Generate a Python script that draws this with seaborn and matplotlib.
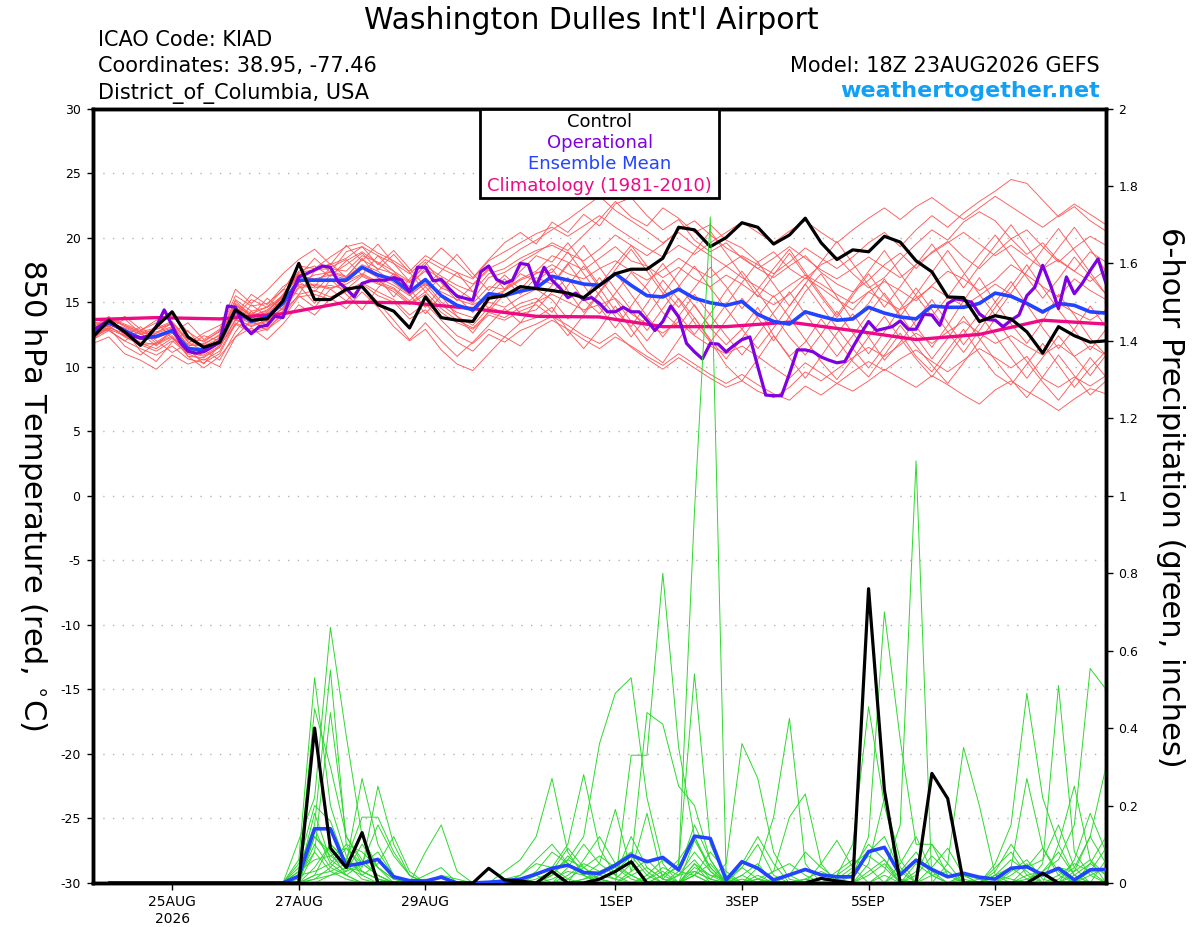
import numpy as np
import pandas as pd
import seaborn as sns
import matplotlib.pyplot as plt
from matplotlib.patches import Rectangle

# GEFS run 18Z 23AUG2026, Washington Dulles (KIAD)
t6 = pd.date_range("2026-08-23 18:00", periods=65, freq="6h")
t3 = pd.date_range("2026-08-23 18:00", periods=129, freq="3h")
t24 = pd.date_range("2026-08-23 18:00", periods=17, freq="24h")
tp = pd.date_range("2026-08-24 00:00", periods=64, freq="6h")

# ---- 850 hPa temperature (C) ----
ctrl_t = [12.3, 13.6, 12.7, 11.65, 13.1, 14.25, 12.3, 11.5, 11.9,
          14.4, 13.6, 13.7, 15.1, 18.0, 15.2, 15.2, 16.0,
          16.2, 14.8, 14.3, 13.0, 15.4, 13.8, 13.6, 13.5, 15.3, 15.5, 16.2, 16.05,
          15.9, 15.7, 15.35, 16.3, 17.2, 17.55, 17.55, 18.4, 20.8, 20.6, 19.3, 20.0,
          21.15, 20.8, 19.5, 20.2, 21.5, 19.6, 18.3, 19.05, 18.9, 20.1, 19.65, 18.2,
          17.35, 15.4, 15.35, 13.5, 13.95, 13.7, 12.7, 11.05, 13.1, 12.4, 11.9, 12.0]

mean_t = [12.7, 13.4, 12.8, 12.2, 12.35, 12.8, 11.4, 11.3, 11.9,
          14.4, 13.5, 13.85, 14.9, 16.7, 16.7, 16.7, 16.7,
          17.7, 17.1, 16.75, 15.8, 16.75, 15.5, 14.75, 14.4, 15.65, 15.5, 15.85, 16.1,
          17.0, 16.7, 16.4, 16.3, 17.2, 16.3, 15.5, 15.4, 16.0, 15.3, 14.95, 14.75,
          15.05, 14.05, 13.5, 13.3, 14.25, 13.9, 13.6, 13.7, 14.6, 14.15, 13.85, 13.7,
          14.7, 14.6, 14.6, 14.9, 15.7, 15.45, 14.9, 14.25, 14.9, 14.75, 14.25, 14.15]

oper_t = [12.8, 13.2, 13.6, 13.1, 12.7, 12.35, 12.25, 12.35, 13.1, 14.4, 13.2, 11.9,
          11.2, 11.05, 11.15, 11.5, 11.9, 14.7, 14.6, 13.2, 12.55, 13.1, 13.2, 13.9,
          13.8, 15.5, 16.95, 17.2, 17.5, 17.8, 17.7, 16.55, 16.05, 15.4, 16.45, 16.65,
          16.7, 16.7, 16.9, 16.7, 15.8, 17.7, 17.7, 16.65, 16.75, 16.05, 15.45, 15.3,
          15.15, 17.35, 17.8, 16.75, 16.45, 16.7, 18.0, 17.9, 16.2,
          17.7, 16.7, 16.1, 15.35, 15.7, 15.2, 15.35, 14.9, 14.25, 14.25, 14.6, 14.25,
          14.25, 13.6, 12.8, 13.5, 14.7, 13.85, 11.8, 11.15, 10.6, 11.8, 11.75, 11.15,
          11.65, 12.1, 12.3, 10.0, 7.8, 7.75, 7.75, 9.45, 11.3, 11.3, 11.15, 10.75,
          10.5, 10.3, 10.4, 11.5, 12.55, 13.5, 12.8, 12.95, 13.1, 13.55, 12.9, 12.9,
          14.05, 14.0, 13.2, 14.9, 15.25, 15.15, 15.0, 14.1, 13.65, 13.6, 13.1, 13.6,
          14.0, 15.5, 16.15, 17.85, 16.3, 14.5, 16.95, 15.65, 16.45, 17.45, 18.35, 16.45]

clim_t = [13.65, 13.8, 13.7, 14.1, 15.0, 14.95, 14.5, 13.9, 13.85,
          13.1, 13.1, 13.45, 12.8, 12.1, 12.5, 13.6, 13.3]

t01 = [12.9, 13.6, 12.5, 11.8, 12.6, 13.4, 11.9, 11.2, 12.3,
       15.1, 13.9, 14.2, 15.6, 17.4, 17.8, 17.0, 18.2,
       18.9, 18.0, 17.1, 16.2, 17.6, 16.8, 16.0, 15.2, 16.9, 17.3, 18.1, 18.8,
       19.6, 19.0, 20.2, 21.4, 22.8, 21.6, 20.9, 22.3, 21.5, 20.4, 21.0, 19.8,
       19.2, 18.1, 18.9, 17.6, 16.8, 17.9, 18.5, 17.2, 16.1, 16.9, 18.3, 19.5,
       20.6, 19.8, 21.2, 22.0, 21.3, 19.9, 18.7, 19.6, 18.2, 17.4, 18.9, 18.1]
t02 = [12.0, 13.4, 12.9, 11.2, 10.4, 11.9, 12.8, 11.3, 10.5,
       12.7, 14.3, 13.1, 15.4, 16.3, 14.9, 16.8, 15.6,
       14.4, 16.1, 17.2, 15.6, 14.1, 15.5, 13.9, 12.6, 14.3, 15.6, 14.1, 14.4,
       15.8, 16.9, 15.2, 14.1, 15.7, 17.3, 16.0, 14.2, 13.1, 14.8, 13.0, 11.7,
       12.9, 14.6, 12.4, 10.8, 11.9, 13.7, 12.1, 10.4, 9.2, 10.9, 12.6, 10.8,
       9.6, 11.3, 12.9, 11.0, 9.4, 8.6, 10.2, 11.8, 10.1, 8.4, 9.9, 11.2]
t03 = [13.1, 13.7, 13.2, 12.6, 12.9, 13.3, 11.6, 11.8, 12.4,
       14.9, 14.1, 14.6, 15.3, 17.2, 16.6, 17.4, 17.0,
       18.3, 17.6, 17.2, 16.5, 17.4, 16.1, 15.6, 14.9, 16.2, 16.0, 16.8, 17.4,
       18.6, 18.1, 17.5, 18.4, 19.3, 18.2, 17.8, 16.9, 17.7, 16.8, 16.2, 17.1,
       16.4, 15.5, 14.8, 15.6, 16.9, 16.1, 15.2, 14.4, 15.8, 16.6, 15.9, 15.1,
       16.3, 17.4, 16.8, 15.9, 16.7, 17.9, 17.1, 16.2, 15.4, 16.8, 15.9, 15.2]
t04 = [12.2, 13.0, 12.6, 11.9, 11.7, 12.3, 10.8, 10.7, 11.5,
       13.6, 13.2, 13.4, 14.3, 16.1, 16.3, 16.0, 16.6,
       17.2, 16.6, 16.1, 15.1, 16.2, 14.8, 13.9, 13.2, 14.6, 14.2, 14.9, 15.3,
       14.2, 16.3, 17.8, 16.1, 14.3, 13.1, 14.9, 16.7, 15.2, 13.4, 11.9, 13.6,
       15.3, 13.8, 12.0, 13.9, 15.8, 17.2, 15.4, 13.6, 14.9, 16.8, 15.0, 13.1,
       11.5, 13.2, 15.1, 16.9, 15.0, 13.3, 11.8, 13.5, 15.6, 14.0, 12.2, 10.9]
t05 = [13.5, 13.1, 13.9, 12.9, 11.8, 12.6, 13.4, 12.1, 12.9,
       16.0, 14.9, 15.9, 17.2, 18.3, 19.1, 17.9, 19.4,
       18.2, 19.5, 18.0, 16.6, 17.9, 19.2, 18.1, 16.9, 18.3, 19.6, 20.4, 19.5,
       21.2, 20.4, 21.8, 20.9, 22.6, 23.1, 21.7, 20.6, 21.4, 19.8, 18.9, 19.6,
       18.4, 17.6, 16.9, 17.8, 18.6, 17.3, 16.4, 15.8, 16.7, 17.9, 18.8, 17.6,
       18.9, 19.7, 18.5, 17.6, 18.8, 19.9, 20.6, 19.3, 18.1, 19.2, 20.1, 19.4]
t06 = [12.5, 13.2, 12.3, 11.7, 11.2, 12.0, 11.0, 10.5, 11.2,
       13.4, 12.8, 13.0, 14.0, 15.6, 15.9, 15.4, 15.9,
       16.5, 15.8, 15.2, 14.0, 14.9, 13.6, 12.4, 11.8, 12.9, 12.3, 13.4, 13.8,
       14.6, 12.8, 11.4, 12.9, 14.7, 12.9, 11.2, 10.3, 12.1, 13.8, 12.0, 10.1,
       8.9, 10.6, 12.4, 10.7, 9.1, 10.8, 12.6, 14.1, 12.3, 10.5, 11.9, 13.6,
       15.2, 13.4, 11.7, 13.3, 15.0, 16.6, 14.8, 13.0, 11.4, 12.9, 14.7, 13.1]
t07 = [12.6, 13.9, 12.4, 13.1, 12.0, 11.1, 11.8, 12.6, 13.2,
       13.9, 15.2, 14.6, 16.0, 15.6, 17.4, 18.0, 16.9,
       18.4, 16.9, 15.4, 16.8, 18.1, 16.5, 15.1, 16.3, 17.5, 16.0, 17.4, 18.6,
       18.1, 19.6, 18.0, 16.3, 17.9, 19.4, 17.8, 16.0, 14.6, 16.1, 17.7, 16.2,
       14.5, 16.0, 17.6, 19.1, 17.3, 15.6, 14.0, 15.7, 17.4, 19.0, 17.2, 15.5,
       13.9, 15.4, 17.1, 18.7, 20.2, 18.6, 16.9, 15.3, 16.8, 18.5, 17.0, 15.6]
t08 = [12.6, 13.3, 12.7, 12.1, 12.2, 12.7, 11.5, 11.1, 11.8,
       14.6, 13.8, 14.1, 15.2, 16.6, 17.1, 17.3, 16.9,
       17.9, 17.4, 16.5, 15.6, 16.4, 15.8, 15.2, 14.8, 15.4, 15.9, 16.7, 17.2,
       17.9, 17.2, 16.8, 17.6, 18.2, 17.4, 16.7, 17.5, 18.4, 17.6, 16.9, 17.8,
       18.6, 17.9, 17.2, 18.1, 19.2, 18.4, 17.6, 18.5, 19.6, 20.4, 19.3, 20.6,
       21.7, 20.8, 21.9, 22.8, 23.6, 24.5, 24.2, 22.9, 21.6, 22.4, 21.3, 20.5]
t09 = [12.3, 12.9, 12.4, 11.8, 11.4, 12.2, 11.1, 10.9, 11.6,
       14.0, 13.3, 13.5, 14.6, 16.4, 16.1, 16.3, 16.0,
       17.0, 16.4, 16.0, 14.9, 15.8, 14.5, 13.6, 13.0, 14.2, 13.8, 14.6, 15.0,
       15.6, 15.0, 14.4, 14.8, 15.3, 14.1, 13.3, 12.6, 13.5, 12.4, 11.6, 11.0,
       11.6, 10.8, 9.9, 9.1, 10.3, 9.5, 8.7, 8.1, 8.9, 9.8, 9.1, 8.4,
       9.3, 8.6, 7.8, 7.1, 8.2, 8.9, 8.1, 7.4, 6.6, 7.5, 8.3, 7.9]
t10 = [13.2, 12.9, 13.7, 12.6, 11.6, 12.9, 11.4, 10.2, 11.7,
       13.2, 14.8, 13.9, 15.5, 17.2, 16.2, 17.7, 18.3,
       17.1, 18.6, 17.4, 16.0, 14.6, 16.1, 17.3, 15.8, 14.5, 15.9, 17.2, 16.6,
       17.6, 15.9, 14.2, 15.8, 17.5, 19.1, 17.4, 15.7, 14.0, 12.5, 14.1, 15.9,
       17.4, 15.8, 14.0, 12.3, 10.9, 12.5, 14.3, 12.6, 11.0, 12.7, 14.5, 16.1,
       14.4, 12.7, 11.1, 12.8, 14.6, 16.2, 17.9, 16.1, 14.4, 12.8, 11.3, 12.9]
t11 = [12.7, 13.4, 13.0, 12.5, 12.7, 13.1, 11.7, 11.6, 12.2,
       14.8, 13.9, 14.4, 15.4, 17.0, 16.8, 17.1, 16.8,
       17.6, 16.9, 16.3, 15.5, 16.5, 15.0, 14.2, 13.8, 15.0, 14.6, 15.4, 16.0,
       15.2, 13.7, 15.3, 16.9, 15.2, 13.5, 12.0, 13.6, 15.3, 13.8, 12.1, 10.6,
       12.2, 13.9, 15.5, 13.8, 12.1, 10.4, 9.0, 10.6, 12.3, 13.9, 12.2, 10.6,
       9.2, 10.8, 12.5, 14.1, 12.4, 10.7, 9.1, 10.7, 12.4, 10.8, 9.3, 10.9]
t12 = [12.1, 12.8, 12.0, 11.4, 10.9, 11.6, 10.6, 10.3, 11.0,
       13.3, 12.6, 12.9, 13.8, 15.4, 15.6, 15.2, 15.8,
       16.4, 15.5, 15.0, 13.7, 14.4, 13.1, 11.9, 11.2, 12.5, 11.9, 12.8, 13.3,
       13.9, 13.2, 12.4, 11.8, 12.6, 11.5, 10.6, 9.8, 10.7, 9.9, 9.1, 8.4,
       8.9, 8.1, 7.6, 8.4, 9.6, 8.9, 9.8, 10.7, 11.5, 10.8, 11.7, 12.6,
       11.8, 12.7, 13.5, 12.6, 11.8, 12.4, 11.6, 10.9, 11.7, 10.8, 11.6, 10.9]
t13 = [13.2, 13.8, 13.1, 12.5, 12.9, 13.4, 12.0, 11.7, 12.5,
       15.2, 14.3, 14.6, 15.5, 17.3, 17.5, 17.6, 17.4,
       18.6, 18.1, 17.4, 16.6, 17.8, 17.0, 16.3, 15.8, 17.2, 17.6, 18.4, 19.0,
       19.4, 18.8, 18.2, 19.1, 20.2, 19.4, 18.6, 19.5, 20.6, 21.3, 20.2, 19.2,
       18.5, 17.6, 18.4, 19.3, 18.4, 17.5, 16.8, 17.6, 18.5, 17.7, 16.9, 17.9,
       18.8, 19.6, 20.4, 19.5, 18.6, 19.4, 18.5, 17.6, 18.3, 17.4, 16.6, 17.5]
t14 = [12.5, 13.0, 11.6, 10.9, 11.9, 12.7, 10.8, 9.9, 10.8,
       12.3, 13.6, 12.8, 14.3, 15.5, 14.6, 16.0, 15.1,
       16.3, 15.0, 13.6, 12.1, 13.4, 12.0, 10.8, 11.9, 13.2, 14.5, 13.4, 15.0,
       16.3, 17.9, 19.4, 17.7, 16.0, 14.4, 12.8, 14.5, 16.2, 17.8, 16.1, 14.5,
       12.9, 11.4, 13.0, 14.7, 16.4, 14.7, 13.0, 11.4, 9.9, 11.5, 13.2, 11.6,
       10.1, 8.7, 10.3, 12.0, 13.7, 12.0, 10.4, 8.8, 7.4, 9.0, 10.7, 9.2]
t15 = [12.9, 13.6, 12.8, 12.3, 12.6, 13.0, 11.5, 11.3, 12.1,
       14.7, 14.0, 14.3, 15.4, 17.1, 17.4, 17.9, 18.4,
       19.3, 18.6, 18.0, 17.2, 18.3, 17.6, 17.0, 16.4, 17.6, 18.2, 19.1, 19.8,
       20.6, 21.4, 22.3, 23.2, 22.1, 21.3, 20.5, 19.6, 20.4, 19.4, 18.6, 17.8,
       16.9, 16.2, 15.4, 16.3, 17.1, 16.4, 15.6, 14.9, 15.8, 15.1, 14.4, 15.3,
       16.2, 15.4, 14.7, 15.5, 16.4, 15.6, 14.8, 14.1, 14.9, 14.2, 13.6, 14.4]
t16 = [12.9, 12.8, 12.0, 12.8, 13.4, 12.2, 11.5, 12.4, 12.0,
       14.8, 13.9, 15.3, 14.4, 16.6, 15.8, 17.1, 17.9,
       18.8, 17.5, 18.7, 17.3, 15.8, 16.9, 15.4, 14.2, 15.5, 16.8, 15.6, 16.9,
       16.4, 18.0, 16.3, 14.6, 13.0, 14.7, 16.4, 18.0, 16.3, 14.7, 13.1, 14.8,
       16.5, 18.1, 16.4, 14.7, 16.4, 18.1, 19.7, 18.0, 16.3, 14.6, 16.2, 17.9,
       19.5, 17.8, 16.1, 17.8, 19.4, 21.0, 19.3, 17.6, 19.2, 20.8, 19.1, 17.4]
t17 = [13.0, 13.7, 13.2, 12.7, 13.0, 13.5, 12.1, 12.0, 12.7,
       15.5, 14.7, 14.9, 15.9, 17.8, 17.6, 18.5, 19.3,
       19.6, 18.8, 18.2, 17.4, 18.6, 17.9, 17.3, 16.8, 18.2, 18.9, 19.6, 20.3,
       20.8, 20.1, 20.9, 21.7, 20.8, 20.0, 19.2, 18.5, 19.4, 18.7, 19.6, 20.4,
       21.2, 20.4, 19.6, 20.5, 21.3, 20.4, 19.6, 20.6, 21.5, 22.3, 21.4, 22.4,
       23.1, 22.2, 21.4, 22.3, 23.2, 22.4, 21.6, 20.8, 21.7, 22.6, 21.8, 21.0]
t18 = [12.3, 13.1, 12.4, 11.7, 11.8, 12.4, 11.1, 10.8, 11.5,
       13.7, 13.1, 13.6, 14.5, 16.2, 16.4, 16.1, 16.4,
       17.1, 16.5, 15.8, 14.8, 15.6, 14.2, 13.4, 12.9, 14.0, 13.6, 14.3, 14.8,
       13.9, 12.4, 14.0, 15.7, 17.3, 15.6, 13.9, 12.3, 13.9, 15.6, 14.0, 12.4,
       10.9, 12.5, 14.2, 15.8, 14.1, 12.4, 10.8, 12.4, 14.1, 15.7, 14.0, 12.3,
       10.6, 12.2, 13.9, 12.2, 10.5, 9.0, 7.6, 9.2, 10.9, 9.3, 7.8, 8.9]
t19 = [12.7, 13.8, 13.3, 12.8, 13.6, 14.0, 12.7, 11.9, 12.8,
       14.0, 15.6, 14.8, 16.2, 17.0, 18.4, 17.3, 18.9,
       19.3, 17.9, 19.0, 17.6, 16.2, 17.4, 18.7, 17.2, 15.9, 17.1, 16.0, 17.3,
       17.3, 18.9, 17.2, 15.5, 13.9, 12.3, 13.9, 15.6, 17.3, 18.9, 20.5, 18.8,
       17.1, 15.4, 17.1, 18.8, 17.1, 15.4, 13.8, 15.5, 17.2, 15.5, 13.9, 15.6,
       17.3, 19.0, 17.3, 15.6, 14.0, 15.7, 17.4, 19.1, 20.7, 19.0, 17.3, 15.6]
t20 = [11.8, 12.3, 11.0, 10.5, 9.8, 10.9, 10.2, 10.6, 10.0,
       12.3, 13.0, 12.1, 13.3, 14.8, 14.0, 15.3, 14.5,
       15.8, 14.6, 13.1, 12.0, 12.9, 11.3, 10.2, 9.7, 11.0, 12.3, 11.6, 12.9,
       13.6, 12.9, 12.1, 11.4, 12.3, 11.6, 10.8, 10.1, 11.0, 10.2, 9.4, 8.7,
       9.4, 8.6, 7.9, 7.4, 8.5, 7.8, 8.7, 9.6, 10.4, 9.7, 10.6, 11.3,
       10.4, 9.6, 10.5, 11.4, 10.7, 9.9, 10.8, 9.1, 8.4, 9.2, 8.5, 9.3]

# ---- 6-hour precipitation (inches), 00Z 24AUG onward ----
ctrl_p = [0, 0, 0, 0, 0, 0, 0, 0, 0, 0, 0, 0, 0, .40, .09, .04,
          .13, 0, 0, 0, 0, 0, 0, 0, .038, .008, .005, 0, .03, 0, 0, .01,
          .03, .055, 0, 0, 0, 0, 0, 0, 0, 0, 0, 0, 0, .012, .005, 0,
          .76, .24, 0, 0, .283, .218, 0, 0, 0, 0, 0, .025, 0, 0, 0, 0]
mean_p = [0, 0, 0, 0, 0, 0, 0, 0, 0, 0, 0, 0, .018, .14, .14, .044,
          .051, .061, .016, .006, .005, .015, 0, 0, .002, .005, .01, .023, .038, .046, .027, .025,
          .046, .072, .055, .066, .034, .121, .115, .008, .055, .038, .008, .021, .035, .021, .016, .016,
          .081, .092, .021, .059, .035, .016, .025, .015, .01, .038, .042, .021, .038, .008, .034, .035]

p01 = [0, 0, 0, 0, 0, 0, 0, 0, 0, 0, 0, 0, .06, .53, .20, .07,
       .02, 0, 0, 0, 0, 0, 0, 0, 0, 0, 0, .01, .03, .09, .04, .01,
       0, .03, .06, .02, 0, .11, .04, 0, 0, .02, 0, 0, 0, 0, 0, 0,
       .02, .05, 0, 0, 0, 0, .01, 0, 0, .03, .06, .01, 0, 0, .02, 0]
p02 = [0, 0, 0, 0, 0, 0, 0, 0, 0, 0, 0, 0, .03, .45, .30, .12,
       .05, .02, 0, 0, .01, 0, 0, 0, 0, .03, .06, .12, .27, .08, .02, 0,
       0, 0, .01, .04, .02, .06, .01, 0, .02, .05, 0, 0, .01, 0, 0, 0,
       0, 0, 0, .02, .07, .03, 0, 0, 0, 0, 0, 0, .01, .04, .12, .05]
p03 = [0, 0, 0, 0, 0, 0, 0, 0, 0, 0, 0, 0, .11, .22, .66, .38,
       .12, .04, .01, 0, 0, 0, 0, 0, 0, 0, 0, 0, .02, .06, .12, .36,
       .49, .53, .22, .05, 0, .02, 0, 0, 0, 0, 0, 0, 0, .05, .11, .04,
       0, 0, 0, 0, 0, 0, 0, 0, .02, .01, 0, 0, 0, 0, 0, 0]
p04 = [0, 0, 0, 0, 0, 0, 0, 0, 0, 0, 0, 0, .04, .15, .55, .10,
       .03, .01, 0, 0, 0, 0, 0, 0, 0, 0, 0, 0, 0, .02, .05, .03,
       .01, .05, .44, .41, .25, .20, .06, 0, 0, 0, .03, .17, .23, .05, 0, 0,
       0, 0, .03, .08, .02, 0, 0, 0, 0, 0, .04, .09, .02, 0, 0, .06]
p05 = [0, 0, 0, 0, 0, 0, 0, 0, 0, 0, 0, 0, .02, .08, .44, .12,
       .06, .02, 0, 0, 0, 0, 0, 0, 0, .01, .02, .05, .04, .01, 0, 0,
       0, .33, .33, .80, .35, .12, .03, 0, 0, .01, 0, 0, 0, 0, .02, .10,
       .455, .20, .04, 0, 0, 0, 0, .01, 0, 0, 0, 0, 0, 0, .05, .02]
p06 = [0, 0, 0, 0, 0, 0, 0, 0, 0, 0, 0, 0, 0, .02, .03, .05,
       .27, .10, .02, 0, 0, 0, 0, 0, 0, 0, 0, .03, .08, .05, .02, 0,
       0, 0, 0, .02, .04, .96, 1.72, .02, 0, 0, 0, 0, .01, .03, .01, 0,
       0, 0, 0, .03, .10, .05, 0, 0, .02, .04, .01, 0, 0, 0, 0, 0]
p07 = [0, 0, 0, 0, 0, 0, 0, 0, 0, 0, 0, 0, 0, .01, .04, .09,
       .04, .25, .10, .02, 0, 0, 0, 0, 0, 0, 0, 0, .01, .03, .02, .05,
       .19, .03, .18, .01, .05, .54, .10, .01, 0, 0, 0, 0, 0, 0, 0, .02,
       .12, .70, .37, .10, .10, .02, 0, 0, 0, 0, 0, .03, .08, .02, 0, 0]
p08 = [0, 0, 0, 0, 0, 0, 0, 0, 0, 0, 0, 0, .05, .20, .16, .05,
       .01, 0, 0, 0, 0, 0, 0, 0, 0, 0, 0, 0, 0, 0, .06, .12,
       .05, .02, 0, 0, 0, .03, .01, .05, .36, .27, .08, .01, 0, 0, 0, 0,
       0, .03, .15, 1.09, 0, 0, 0, 0, 0, .02, .05, 0, 0, .03, .06, .02]
p09 = [0, 0, 0, 0, 0, 0, 0, 0, 0, 0, 0, 0, 0, .02, .10, .06,
       .17, .17, .08, .02, 0, 0, 0, 0, 0, 0, 0, 0, 0, 0, .01, .02,
       .01, 0, 0, 0, .02, .08, .03, 0, 0, .04, .17, .425, .05, 0, 0, 0,
       .03, .06, .01, 0, 0, .05, .35, .20, .02, 0, 0, 0, .02, .05, .03, 0]
p10 = [0, 0, 0, 0, 0, 0, 0, 0, 0, 0, 0, 0, 0, .01, .02, .03,
       .05, .15, .07, .02, 0, 0, 0, 0, 0, 0, .02, .06, .10, .05, .03, .01,
       0, 0, .02, .06, .03, .02, 0, 0, 0, .01, .03, .05, .02, 0, 0, 0,
       0, 0, 0, 0, 0, 0, 0, 0, .05, .15, .49, .22, .10, .02, 0, 0]
p11 = [0, 0, 0, 0, 0, 0, 0, 0, 0, 0, 0, 0, .03, .06, .07, .09,
       .05, .02, 0, 0, 0, 0, 0, 0, 0, 0, 0, 0, 0, 0, 0, .01,
       .03, .07, .02, 0, 0, .04, .02, 0, .01, 0, 0, 0, 0, 0, .02, .05,
       .08, .12, .03, 0, 0, 0, .02, .01, 0, 0, 0, .05, .51, .08, .02, .04]
p12 = [0, 0, 0, 0, 0, 0, 0, 0, 0, 0, 0, 0, 0, 0, .02, .04,
       .03, .01, 0, 0, .08, .15, .03, 0, 0, 0, 0, 0, 0, .01, .04, .07,
       .04, .02, 0, 0, 0, .02, .05, 0, 0, 0, 0, .02, 0, 0, 0, 0,
       0, 0, 0, 0, 0, 0, 0, 0, 0, 0, .02, .03, .06, .15, .554, .50]
p13 = [0, 0, 0, 0, 0, 0, 0, 0, 0, 0, 0, 0, 0, .04, .10, .06,
       .03, .01, 0, 0, 0, 0, 0, 0, 0, 0, 0, 0, 0, 0, 0, 0,
       0, 0, 0, 0, .03, .15, .06, 0, 0, 0, .01, .02, .08, .04, .01, 0,
       .05, .22, .06, 0, 0, 0, .02, 0, 0, .04, .27, .09, .03, 0, 0, 0]
p14 = [0, 0, 0, 0, 0, 0, 0, 0, 0, 0, 0, 0, 0, .12, .08, .02,
       0, 0, 0, 0, 0, 0, 0, 0, 0, 0, 0, .02, .04, .10, .28, .09,
       .02, .12, .04, .01, 0, .05, 0, 0, 0, 0, 0, 0, 0, 0, 0, 0,
       0, 0, 0, 0, .02, .03, 0, 0, 0, 0, 0, 0, 0, .02, .05, .12]
p15 = [0, 0, 0, 0, 0, 0, 0, 0, 0, 0, 0, 0, .02, .03, .05, .10,
       .08, .04, 0, 0, 0, 0, 0, 0, 0, 0, 0, 0, 0, 0, .01, .03,
       .05, .08, .03, 0, 0, 0, 0, 0, .04, .10, .02, 0, 0, 0, .01, .04,
       .10, .06, 0, 0, 0, 0, 0, 0, 0, 0, 0, .02, .04, .03, .12, .30]
p16 = [0, 0, 0, 0, 0, 0, 0, 0, 0, 0, 0, 0, .02, .18, .06, .03,
       .10, .04, .01, 0, 0, 0, 0, 0, 0, 0, 0, 0, .02, .07, .03, 0,
       0, 0, 0, 0, .02, .03, .01, 0, .02, 0, 0, 0, .01, 0, .03, .06,
       .04, 0, 0, .05, .02, 0, 0, 0, .02, .06, .03, 0, 0, 0, 0, 0]
p17 = [0, 0, 0, 0, 0, 0, 0, 0, 0, 0, 0, 0, 0, .14, .05, .02,
       0, 0, 0, 0, .02, .04, 0, 0, 0, 0, 0, 0, 0, .04, .10, .05,
       .02, 0, 0, .02, .06, .12, .04, 0, 0, 0, 0, 0, 0, 0, 0, 0,
       0, 0, 0, 0, .04, .09, .02, 0, 0, 0, 0, 0, .10, .25, .06, 0]
p18 = [0, 0, 0, 0, 0, 0, 0, 0, 0, 0, 0, 0, .01, .10, .04, .02,
       .05, .08, .02, 0, 0, 0, 0, 0, 0, 0, 0, .02, 0, 0, 0, 0,
       0, 0, .01, .03, 0, .02, .08, .03, 0, 0, 0, 0, 0, 0, 0, .03,
       .07, .04, 0, 0, 0, 0, 0, 0, .03, .10, .04, .06, .15, .04, 0, 0]
p19 = [0, 0, 0, 0, 0, 0, 0, 0, 0, 0, 0, 0, 0, .12, .07, .04,
       .02, .05, .12, .03, 0, 0, 0, 0, 0, 0, 0, 0, 0, 0, 0, .02,
       .04, .01, 0, 0, 0, .05, .02, .01, .04, .01, 0, 0, 0, 0, 0, 0,
       0, .02, 0, 0, 0, 0, 0, 0, .04, .08, .02, 0, 0, .06, .18, .08]
p20 = [0, 0, 0, 0, 0, 0, 0, 0, 0, 0, 0, 0, 0, .08, .03, .01,
       0, 0, 0, 0, 0, .02, .01, 0, 0, 0, 0, 0, .03, .06, .04, .01,
       0, .02, .04, .01, 0, 0, 0, 0, .05, .12, .05, 0, 0, 0, 0, 0,
       0, 0, .05, .12, .03, 0, 0, 0, 0, 0, .01, .03, 0, 0, .03, .09]

temp_members = [t01, t02, t03, t04, t05, t06, t07, t08, t09, t10,
                t11, t12, t13, t14, t15, t16, t17, t18, t19, t20]
precip_members = [p01, p02, p03, p04, p05, p06, p07, p08, p09, p10,
                  p11, p12, p13, p14, p15, p16, p17, p18, p19, p20]

tick_days = ["2026-08-25", "2026-08-27", "2026-08-29", "2026-09-01",
             "2026-09-03", "2026-09-05", "2026-09-07"]
tick_labels = ["25AUG\n2026", "27AUG", "29AUG", "1SEP", "3SEP", "5SEP", "7SEP"]

RED = "#ff5a5a"
GREEN = "#2ed82e"
BLACK = "#000000"
PURPLE = "#7f00e0"
BLUE = "#2243ff"
PINK = "#ee0a84"

# long tables for seaborn
temp_long = (pd.DataFrame({f"m{i+1:02d}": v for i, v in enumerate(temp_members)}, index=t6)
             .rename_axis("time").reset_index()
             .melt("time", var_name="member", value_name="temp"))
precip_long = (pd.DataFrame({f"m{i+1:02d}": v for i, v in enumerate(precip_members)}, index=tp)
               .rename_axis("time").reset_index()
               .melt("time", var_name="member", value_name="precip"))

sns.set_style("white")
plt.rcParams["font.family"] = ["DejaVu Sans"]
plt.rcParams["axes.unicode_minus"] = False
for key in ("text.color", "axes.labelcolor", "xtick.color", "ytick.color"):
    plt.rcParams[key] = "black"

fig = plt.figure(figsize=(12, 9.27), dpi=100)
fig.patch.set_facecolor("white")
ax = fig.add_axes([93 / 1200, 44 / 927, 1013 / 1200, 774.5 / 927])

# temperatures
sns.lineplot(data=temp_long, x="time", y="temp", units="member", estimator=None,
             color=RED, lw=0.65, ax=ax, legend=False, zorder=2)
sns.lineplot(x=t24, y=clim_t, color=PINK, lw=2.4, ax=ax, zorder=3)
sns.lineplot(x=t6, y=mean_t, color=BLUE, lw=2.6, ax=ax, zorder=4)
sns.lineplot(x=t3, y=oper_t, color=PURPLE, lw=2.3, ax=ax, zorder=5)
sns.lineplot(x=t6, y=ctrl_t, color=BLACK, lw=2.3, ax=ax, zorder=6)

ax.set_ylim(-30, 30)
ax.set_yticks(range(-30, 31, 5))
ax.grid(axis="y", color="#b4b4b4", lw=1.0, ls=(0, (1, 6)))
ax.grid(axis="x", visible=False)

# precipitation on the right axis
ax2 = ax.twinx()
sns.lineplot(data=precip_long, x="time", y="precip", units="member", estimator=None,
             color=GREEN, lw=0.7, ax=ax2, legend=False, zorder=2)
sns.lineplot(x=tp, y=mean_p, color=BLUE, lw=2.6, ax=ax2, zorder=4)
sns.lineplot(x=tp, y=ctrl_p, color=BLACK, lw=2.3, ax=ax2, zorder=5)
ax2.set_ylim(0, 2)
ax2.set_yticks(np.arange(0, 2.01, 0.2))
ax2.set_yticklabels(["0", "0.2", "0.4", "0.6", "0.8", "1", "1.2", "1.4", "1.6", "1.8", "2"])
ax2.grid(False)

ax.set_xlim(t6[0], t6[-1])
ax.set_xticks(pd.to_datetime(tick_days))
ax.set_xticklabels(tick_labels)

for a in (ax, ax2):
    a.set_xlabel("")
    a.set_ylabel("")
    for s in a.spines.values():
        s.set_linewidth(2.5)
        s.set_color("black")
ax.tick_params(axis="y", left=True, direction="out", length=4, width=1, labelsize=9, pad=5)
ax.tick_params(axis="x", bottom=True, direction="out", length=5, width=1, labelsize=10, pad=4)
ax2.tick_params(axis="y", right=True, direction="out", length=5, width=1, labelsize=9, pad=4)

# legend box (text only, centered)
ax2.add_patch(Rectangle((0.3825, 0.8844), 0.2355, 0.1156, transform=ax2.transAxes,
                        facecolor="white", edgecolor="black", lw=2, zorder=10, clip_on=False))
legend_rows = [("Control", BLACK, 0.983), ("Operational", PURPLE, 0.9556),
               ("Ensemble Mean", BLUE, 0.9277), ("Climatology (1981-2010)", PINK, 0.8999)]
for label, col, yy in legend_rows:
    ax2.text(0.5002, yy, label, color=col, fontsize=13, ha="center", va="center",
             transform=ax2.transAxes, zorder=11)

# header text
fig.text(591.5 / 1200, 1 - 29 / 927, "Washington Dulles Int'l Airport",
         ha="center", va="baseline", fontsize=21.5)
fig.text(98 / 1200, 1 - 46.5 / 927, "ICAO Code: KIAD", va="baseline", fontsize=15)
fig.text(98 / 1200, 1 - 72.5 / 927, "Coordinates: 38.95, -77.46", va="baseline", fontsize=15)
fig.text(98 / 1200, 1 - 99 / 927, "District_of_Columbia, USA", va="baseline", fontsize=15)
fig.text(1100 / 1200, 1 - 72.5 / 927, "Model: 18Z 23AUG2026 GEFS", ha="right",
         va="baseline", fontsize=15)
fig.text(1100 / 1200, 1 - 97 / 927, "weathertogether.net", ha="right", va="baseline",
         fontsize=16, fontweight="bold", color="#12a0f5")

fig.text(32 / 1200, 1 - 495 / 927, "850 hPa Temperature (red, $^{\\circ}$C)",
         rotation=270, ha="center", va="center", fontsize=22)
fig.text(1170 / 1200, 1 - 497 / 927, "6-hour Precipitation (green, inches)",
         rotation=270, ha="center", va="center", fontsize=22)

fig.savefig("out.png", dpi=100, facecolor="white")
